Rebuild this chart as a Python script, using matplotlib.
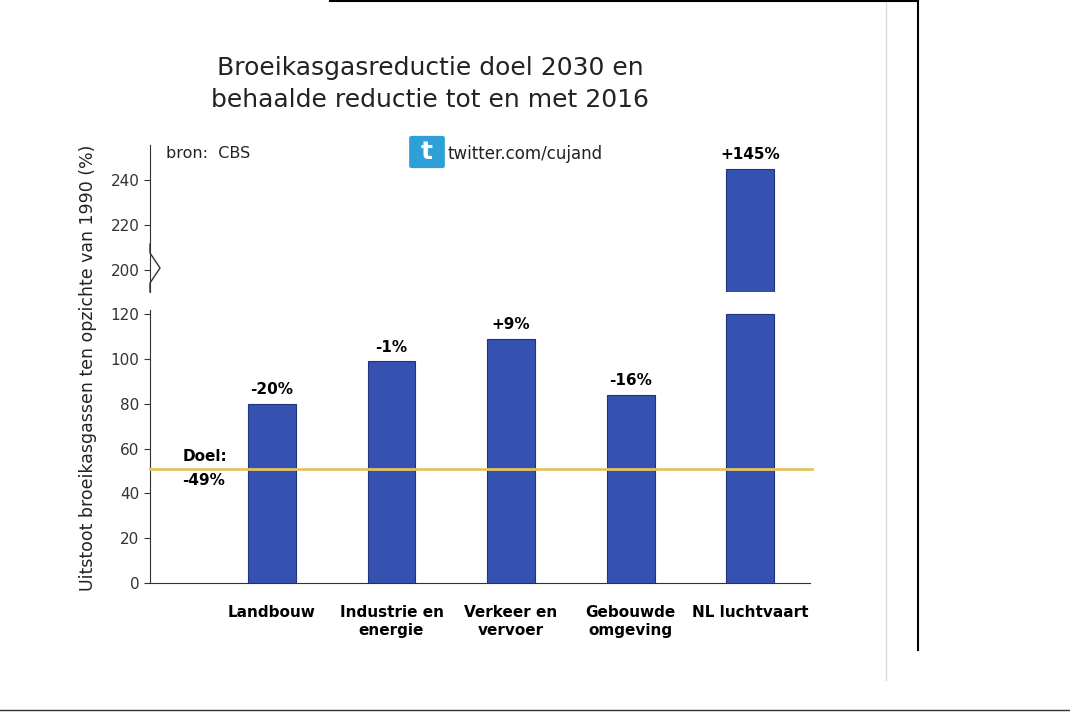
import matplotlib.pyplot as plt
from matplotlib.patches import FancyBboxPatch
from matplotlib.lines import Line2D

categories = ["Landbouw", "Industrie en\nenergie", "Verkeer en\nvervoer", "Gebouwde\nomgeving", "NL luchtvaart"]
values = [80, 99, 109, 84, 245]
labels = ["-20%", "-1%", "+9%", "-16%", "+145%"]
goal = 51
lower_cap = 120

W, H = 1070, 713
fig = plt.figure(figsize=(W / 100, H / 100), dpi=100)
fig.patch.set_facecolor("white")

ax = fig.add_axes([150 / W, (H - 583) / H, 660 / W, 273 / H])
ax2 = fig.add_axes([150 / W, (H - 292) / H, 660 / W, 147 / H])

x = list(range(len(categories)))
bar_kw = dict(width=0.4, color="#3552b0", edgecolor="#1f3380", linewidth=0.8, zorder=3)
ax.bar(x, [min(v, lower_cap) for v in values], **bar_kw)
ax2.bar(x, values, **bar_kw)

ax.set_xlim(-1.02, 4.5)
ax2.set_xlim(-1.02, 4.5)
ax.set_ylim(0, 122)
ax2.set_ylim(190.2, 255.6)
ax.set_yticks(range(0, 121, 20))
ax2.set_yticks([200, 220, 240])
for a in (ax, ax2):
    a.spines[["top", "right"]].set_visible(False)
    a.tick_params(axis="y", labelsize=11, colors="#333333", length=4)
    a.spines["left"].set_color("#333333")
ax2.spines["bottom"].set_visible(False)
ax2.set_xticks([])
ax.set_xticks(x)
ax.set_xticklabels(categories, fontsize=11, fontweight="bold")
ax.tick_params(axis="x", length=0, pad=16)
ax.spines["bottom"].set_color("#333333")

ax.axhline(goal, color="#e3c462", linewidth=2, zorder=4, xmax=1.003, clip_on=False)
ax.text(-0.75, goal + 2, "Doel:", fontsize=11, fontweight="bold", va="bottom")
ax.text(-0.75, goal - 2, "-49%", fontsize=11, fontweight="bold", va="top")

for i, (v, lab) in enumerate(zip(values, labels)):
    if v > 190:
        ax2.text(i, v + 3, lab, ha="center", va="bottom", fontsize=11, fontweight="bold")
    else:
        ax.text(i, v + 3, lab, ha="center", va="bottom", fontsize=11, fontweight="bold")

# break mark on the y axis
fig.add_artist(Line2D([150 / W, 150 / W, 160 / W, 150 / W, 150 / W],
                      [(H - 292) / H, (H - 283) / H, (H - 268) / H, (H - 253) / H, (H - 244) / H],
                      color="#333333", linewidth=1))

fig.text(430 / W, (H - 84) / H, "Broeikasgasreductie doel 2030 en\nbehaalde reductie tot en met 2016",
         ha="center", va="center", fontsize=18, color="#222222", linespacing=1.4)
fig.text(166 / W, (H - 154) / H, "bron:  CBS", fontsize=11.5, va="center", color="#222222")
fig.add_artist(FancyBboxPatch((412 / W, (H - 166) / H), 30 / W, 28 / H,
                              boxstyle="round,pad=0.002", color="#2f9fd8"))
fig.text(427 / W, (H - 152) / H, "t", fontsize=18, fontweight="bold", color="white", ha="center", va="center")
fig.text(448 / W, (H - 154) / H, "twitter.com/cujand", fontsize=12, va="center", color="#222222")
fig.text(88 / W, (H - 368) / H, "Uitstoot broeikasgassen ten opzichte van 1990 (%)",
         rotation=90, ha="center", va="center", fontsize=12.5, color="#222222")

# frame lines of the screenshot
fig.add_artist(Line2D([918 / W, 918 / W], [1, (H - 650) / H], color="black", linewidth=1.5))
fig.add_artist(Line2D([886 / W, 886 / W], [1, (H - 680) / H], color="#dddddd", linewidth=1))
fig.add_artist(Line2D([0, 1], [(H - 710) / H, (H - 710) / H], color="#333333", linewidth=1))
fig.add_artist(Line2D([330 / W, 918 / W], [(H - 1) / H, (H - 1) / H], color="black", linewidth=1.5))

fig.savefig("out.png", dpi=100)
